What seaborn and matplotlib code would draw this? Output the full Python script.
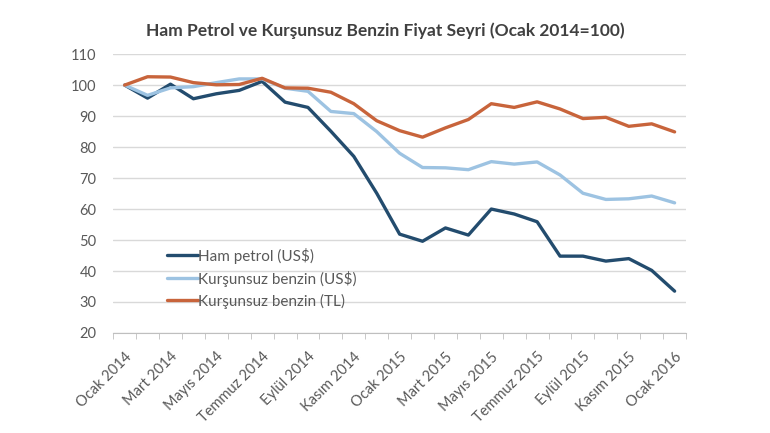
import numpy as np
import pandas as pd
import matplotlib
matplotlib.use("Agg")
import matplotlib.pyplot as plt
import seaborn as sns

months = ["Ocak", "Şubat", "Mart", "Nisan", "Mayıs", "Haziran", "Temmuz",
          "Ağustos", "Eylül", "Ekim", "Kasım", "Aralık"]
periods = [f"{months[i % 12]} {2014 + i // 12}" for i in range(25)]

ham_petrol = [100, 95.8, 100.3, 95.6, 97.2, 98.3, 101.2, 94.5, 92.8, 85.1, 77.0, 65.1,
              51.9, 49.6, 53.9, 51.6, 60.0, 58.4, 55.9, 44.8, 44.8, 43.2, 44.0, 40.2, 33.5]
benzin_usd = [100, 96.7, 99.1, 99.5, 100.8, 102.0, 102.0, 99.0, 98.0, 91.5, 90.8, 85.0,
              78.0, 73.4, 73.3, 72.7, 75.3, 74.5, 75.2, 71.0, 65.1, 63.1, 63.3, 64.2, 62.0]
benzin_tl = [100, 102.7, 102.6, 100.8, 100.1, 100.2, 102.2, 99.1, 99.0, 97.7, 94.0, 88.5,
             85.3, 83.2, 86.2, 88.9, 94.0, 92.8, 94.6, 92.3, 89.2, 89.6, 86.7, 87.5, 84.9]

series_names = ["Ham petrol (US$)", "Kurşunsuz benzin (US$)", "Kurşunsuz benzin (TL)"]
colors = ["#234c6e", "#9dc3e2", "#c8643b"]

df = pd.DataFrame({
    "idx": list(range(25)) * 3,
    "value": ham_petrol + benzin_usd + benzin_tl,
    "series": [series_names[0]] * 25 + [series_names[1]] * 25 + [series_names[2]] * 25,
})

sns.set_style("white")
plt.rcParams["font.family"] = ["Lato", "DejaVu Sans"]

fig = plt.figure(figsize=(7.7, 4.33), dpi=100)
ax = fig.add_axes([0.147, 0.231, 0.744, 0.644])

sns.lineplot(data=df, x="idx", y="value", hue="series", hue_order=series_names,
             palette=colors, linewidth=2.4, ax=ax)

ax.set_xlim(-0.5, 24.5)
ax.set_ylim(20, 110)
ax.set_yticks(range(20, 111, 10))
ax.yaxis.grid(True, color="#d9d9d9", linewidth=1)
ax.set_axisbelow(True)
for s in ["top", "right", "left"]:
    ax.spines[s].set_visible(False)
ax.spines["bottom"].set_color("#bfbfbf")

ax.set_xticks(range(0, 25, 2))
ax.set_xticklabels([periods[i] for i in range(0, 25, 2)], rotation=45, ha="right",
                   rotation_mode="anchor", fontsize=10.5, color="#595959")
ax.set_xticks(np.arange(-0.5, 25, 1), minor=True)
ax.tick_params(axis="x", which="major", length=0, pad=12)
ax.tick_params(axis="x", which="minor", length=4, color="#bfbfbf", bottom=True)
ax.tick_params(axis="y", length=0, labelsize=10.5, labelcolor="#595959", pad=12)
ax.set_xlabel("")
ax.set_ylabel("")

leg = ax.legend(loc="upper left", bbox_to_anchor=(0.07, 0.355), frameon=False,
                fontsize=11, handlelength=2.0, handletextpad=0.05, labelspacing=0.45)
for t in leg.get_texts():
    t.set_color("#595959")

fig.text(0.5, 0.93, "Ham Petrol ve Kurşunsuz Benzin Fiyat Seyri (Ocak 2014=100)",
         ha="center", va="center", fontsize=12.5, fontweight="bold", color="#404040")

fig.savefig("out.png", dpi=100)
